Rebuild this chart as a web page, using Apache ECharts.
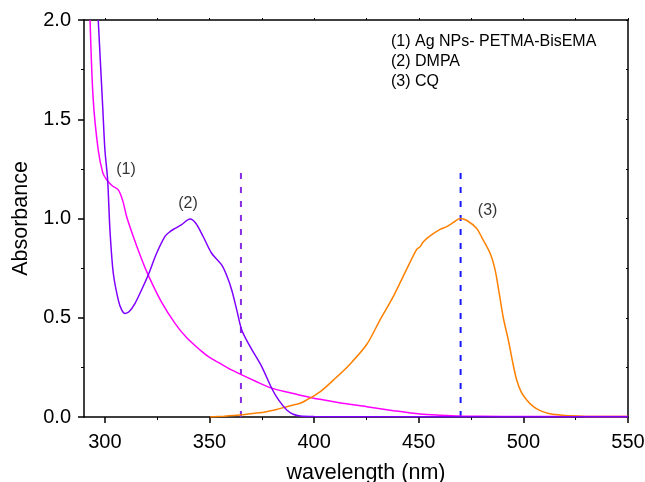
<!DOCTYPE html>
<html>
<head>
<meta charset="utf-8">
<script src="https://cdn.jsdelivr.net/npm/echarts@6/dist/echarts.min.js"></script>
<style>html,body{margin:0;padding:0;background:#fff;}#c{width:645px;height:482px;}</style>
</head>
<body>
<div id="c"></div>
<script>
// ---- data ----
const xTicks = [300, 350, 400, 450, 500, 550];
const xMinorTicks = [325, 375, 425, 475, 525];

// (1) Ag NPs- PETMA-BisEMA (magenta)
const wl1 = [292.9, 294.4, 296.8, 299, 300.9, 303.5, 306.4, 308.5, 310.4, 313.6, 317, 320.7, 327, 333.5, 339, 345.4, 350, 355, 360, 365.4, 372, 378.9, 388.5, 393.3, 402.8, 412, 425.1, 438, 450.6, 460, 470, 490, 510, 530, 550];
const abs1 = [2.0, 1.6, 1.345, 1.23, 1.194, 1.165, 1.144, 1.09, 1.009, 0.908, 0.81, 0.715, 0.58, 0.472, 0.4, 0.338, 0.3, 0.27, 0.24, 0.212, 0.18, 0.148, 0.122, 0.11, 0.089, 0.072, 0.052, 0.032, 0.015, 0.009, 0.005, 0.003, 0.002, 0.002, 0.002];

// (2) DMPA (purple)
const wl2 = [296.8, 299, 300.0, 301.3, 302.4, 304.0, 306.4, 308, 309.6, 311.5, 314.4, 317.5, 320.7, 324.5, 328.7, 331.1, 333.5, 336.5, 340.7, 343.5, 347.0, 351.0, 355.8, 358.3, 360.6, 363, 365.4, 369.4, 375, 379.7, 383, 386.9, 390, 393.3, 400, 420, 450, 500, 550];
const abs2 = [2.0, 1.55, 1.345, 1.194, 0.942, 0.724, 0.589, 0.54, 0.522, 0.53, 0.573, 0.64, 0.715, 0.82, 0.91, 0.934, 0.95, 0.968, 0.997, 0.975, 0.908, 0.825, 0.766, 0.71, 0.64, 0.54, 0.438, 0.354, 0.253, 0.145, 0.086, 0.035, 0.014, 0.005, 0.002, 0.001, 0.001, 0.001, 0.001];

// (3) CQ (orange)
const wl3 = [350.2, 357, 364.6, 371, 377.3, 382, 386.9, 393.3, 396.5, 402.8, 409.2, 417, 425.1, 431.5, 437.8, 444, 449, 450.6, 452.2, 455.4, 460.2, 463.4, 466.5, 469.7, 473, 477.7, 480.1, 484.1, 486.5, 488.5, 490.4, 492.8, 494.8, 496.8, 499, 501.6, 504.5, 508, 512, 517.5, 522, 530, 540, 550];
const abs3 = [0.0, 0.004, 0.01, 0.018, 0.027, 0.038, 0.052, 0.069, 0.086, 0.127, 0.186, 0.265, 0.365, 0.489, 0.606, 0.74, 0.845, 0.858, 0.883, 0.912, 0.945, 0.959, 0.98, 1.0, 0.99, 0.95, 0.905, 0.825, 0.74, 0.62, 0.5, 0.388, 0.28, 0.186, 0.125, 0.086, 0.055, 0.032, 0.018, 0.01, 0.006, 0.003, 0.002, 0.002];

// vertical dashed markers
const markerWl = [365, 470];
const markerTop = 1.24;

// peak labels
const peakLabels = ['(1)', '(2)', '(3)'];
const peakLabelX = [310.1, 339.7, 482.9];
const peakLabelY = [1.244, 1.076, 1.039];

const legendLines = ['(1) Ag NPs- PETMA-BisEMA', '(2) DMPA', '(3) CQ'];

// ---- chart ----
const zip = (a, b) => a.map((v, i) => [v, b[i]]);
const font = 'Liberation Sans, Arial, sans-serif';
const chart = echarts.init(document.getElementById('c'), null, {renderer: 'canvas'});

const lineSeries = (data, color) => ({
  type: 'line', data, smooth: 0.3, showSymbol: false, symbol: 'none',
  lineStyle: {color, width: 1.5}, z: 3, animation: false, clip: true
});

const option = {
  animation: false,
  backgroundColor: '#fff',
  grid: {left: 84, right: 17, top: 20, bottom: 65, containLabel: false, outerBoundsMode: 'none'},
  xAxis: [
    {
      type: 'value', min: 290, max: 550, position: 'bottom',
      name: 'wavelength (nm)', nameLocation: 'middle', nameGap: 45,
      nameTextStyle: {fontSize: 21.5, color: '#000', fontFamily: font, padding: [0, 0, 0, 20]},
      axisLine: {show: true, lineStyle: {color: '#000', width: 1.5}},
      axisTick: {show: true, customValues: xTicks, length: 6, lineStyle: {color: '#000', width: 1.5}},
      axisLabel: {show: true, customValues: xTicks, fontSize: 20, color: '#000', fontFamily: font, margin: 15},
      splitLine: {show: false}
    },
    {
      type: 'value', min: 290, max: 550, position: 'bottom',
      axisLine: {show: false},
      axisTick: {show: true, customValues: xMinorTicks, length: 3, lineStyle: {color: '#000', width: 1}},
      axisLabel: {show: false},
      splitLine: {show: false}
    },
    {
      type: 'value', min: 290, max: 550, position: 'top',
      axisLine: {show: true, lineStyle: {color: '#000', width: 1.5}},
      axisTick: {show: true, customValues: xTicks.concat(xMinorTicks), length: 2, lineStyle: {color: '#000', width: 1}},
      axisLabel: {show: false},
      splitLine: {show: false}
    }
  ],
  yAxis: [
    {
      type: 'value', min: 0, max: 2, interval: 0.5, position: 'left',
      name: 'Absorbance', nameLocation: 'middle', nameGap: 52, nameRotate: 90,
      nameTextStyle: {fontSize: 21.5, color: '#000', fontFamily: font},
      axisLine: {show: true, lineStyle: {color: '#000', width: 1.5}},
      axisTick: {show: true, length: 6, lineStyle: {color: '#000', width: 1.5}},
      minorTick: {show: true, splitNumber: 2, length: 3, lineStyle: {color: '#000', width: 1}},
      axisLabel: {fontSize: 20, color: '#000', fontFamily: font, margin: 13, formatter: v => v.toFixed(1)},
      splitLine: {show: false}
    },
    {
      type: 'value', min: 0, max: 2, interval: 0.5, position: 'right',
      axisLine: {show: true, lineStyle: {color: '#000', width: 1.5}},
      axisTick: {show: true, length: 2, inside: true, lineStyle: {color: '#000', width: 1}},
      minorTick: {show: true, splitNumber: 2, length: 2, lineStyle: {color: '#000', width: 1}},
      axisLabel: {show: false},
      splitLine: {show: false}
    }
  ],
  series: [
    lineSeries(zip(wl1, abs1), '#ff00ff'),
    lineSeries(zip(wl3, abs3), '#ff8000'),
    lineSeries(zip(wl2, abs2), '#7f00ff'),
    {
      type: 'line', data: [[markerWl[0], 0], [markerWl[0], markerTop]], showSymbol: false, symbol: 'none',
      lineStyle: {color: '#8a2be2', width: 2, type: [6, 8]}, z: 2
    },
    {
      type: 'line', data: [[markerWl[1], 0], [markerWl[1], markerTop]], showSymbol: false, symbol: 'none',
      lineStyle: {color: '#1a1aff', width: 2, type: [6, 8]}, z: 2
    },
    {
      type: 'scatter', symbolSize: 0, z: 5,
      data: peakLabels.map((t, i) => ({value: [peakLabelX[i], peakLabelY[i]], name: t})),
      label: {show: true, position: 'inside', formatter: p => p.name, fontSize: 16, color: '#000', fontFamily: font}
    }
  ],
  graphic: legendLines.map((t, i) => ({
    type: 'text', left: 391, top: 34 + i * 20,
    style: {text: t, fontSize: 16, fill: '#000', fontFamily: font}
  }))
};
chart.setOption(option);
</script>
</body>
</html>
